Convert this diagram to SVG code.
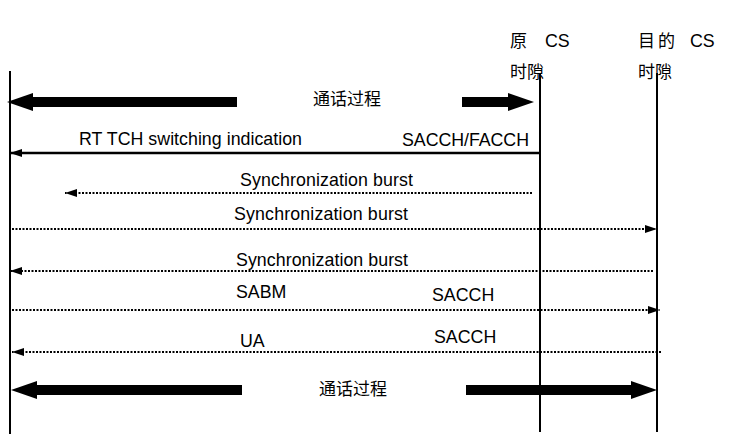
<svg xmlns="http://www.w3.org/2000/svg" width="730" height="434" viewBox="0 0 730 434">
<style>
.t{font-family:"Liberation Sans",Arial,sans-serif;font-size:17.8px;fill:#000}
.c{font-family:"Liberation Sans","Noto Sans CJK SC",sans-serif;font-size:17px;fill:#000}
.life{stroke:#000;stroke-width:2;fill:none}
.solid{stroke:#000;stroke-width:2.5;fill:none}
.dot{stroke:#000;stroke-width:2;stroke-dasharray:2 1.5;fill:none}
.thick{stroke:#000;stroke-width:10;fill:none}
</style>
<defs>
<marker id="ah" markerUnits="userSpaceOnUse" markerWidth="12" markerHeight="8" refX="12" refY="4" orient="auto-start-reverse" viewBox="0 0 12 8"><path d="M0,0 L12,4 L0,8 z" fill="#000"/></marker>
<marker id="big" markerUnits="userSpaceOnUse" markerWidth="26" markerHeight="18" refX="0" refY="9" orient="auto-start-reverse" viewBox="0 0 26 18"><path d="M0,0 L26,9 L0,18 z" fill="#000"/></marker>
</defs>
<rect width="730" height="434" fill="#fff"/>
<g id="lifeline-left">
<line class="life" x1="10" y1="71" x2="10" y2="434"/>
</g>
<g id="lifeline-source">
<text class="c" x="510" y="47">原</text>
<text class="t" x="545" y="47">CS</text>
<text class="c" x="510" y="78">时隙</text>
<line class="life" x1="540" y1="73" x2="540" y2="432"/>
</g>
<g id="lifeline-target">
<text class="c" x="638" y="47">目</text>
<text class="c" x="658" y="47">的</text>
<text class="t" x="690" y="47">CS</text>
<text class="c" x="638" y="78">时隙</text>
<line class="life" x1="657" y1="73" x2="657" y2="432"/>
</g>
<g id="connectors">
<line class="thick" x1="33" y1="102" x2="237" y2="102" marker-start="url(#big)"/>
<line class="thick" x1="462" y1="102" x2="508" y2="102" marker-end="url(#big)"/>
<line class="solid" x1="540" y1="153" x2="10" y2="153" marker-end="url(#ah)"/>
<line class="dot" x1="532" y1="193" x2="65" y2="193" marker-end="url(#ah)"/>
<line class="dot" x1="12" y1="229" x2="657" y2="229" marker-end="url(#ah)"/>
<line class="dot" x1="653" y1="271" x2="10" y2="271" marker-end="url(#ah)"/>
<line class="dot" x1="12" y1="310" x2="660" y2="310" marker-end="url(#ah)"/>
<line class="dot" x1="661" y1="352" x2="12" y2="352" marker-end="url(#ah)"/>
<line class="thick" x1="37" y1="390" x2="242" y2="390" marker-start="url(#big)"/>
<line class="thick" x1="466" y1="390" x2="631" y2="390" marker-end="url(#big)"/>
</g>
<g id="labels">
<text class="c" x="313" y="105">通话过程</text>
<text class="t" x="79" y="145" textLength="223">RT TCH switching indication</text>
<text class="t" x="402" y="146" textLength="127">SACCH/FACCH</text>
<text class="t" x="240" y="186" textLength="173">Synchronization burst</text>
<text class="t" x="234" y="220" textLength="174">Synchronization burst</text>
<text class="t" x="236" y="266" textLength="172">Synchronization burst</text>
<text class="t" x="236" y="298">SABM</text>
<text class="t" x="432" y="301">SACCH</text>
<text class="t" x="240" y="347">UA</text>
<text class="t" x="434" y="343">SACCH</text>
<text class="c" x="319" y="395">通话过程</text>
</g>
</svg>
